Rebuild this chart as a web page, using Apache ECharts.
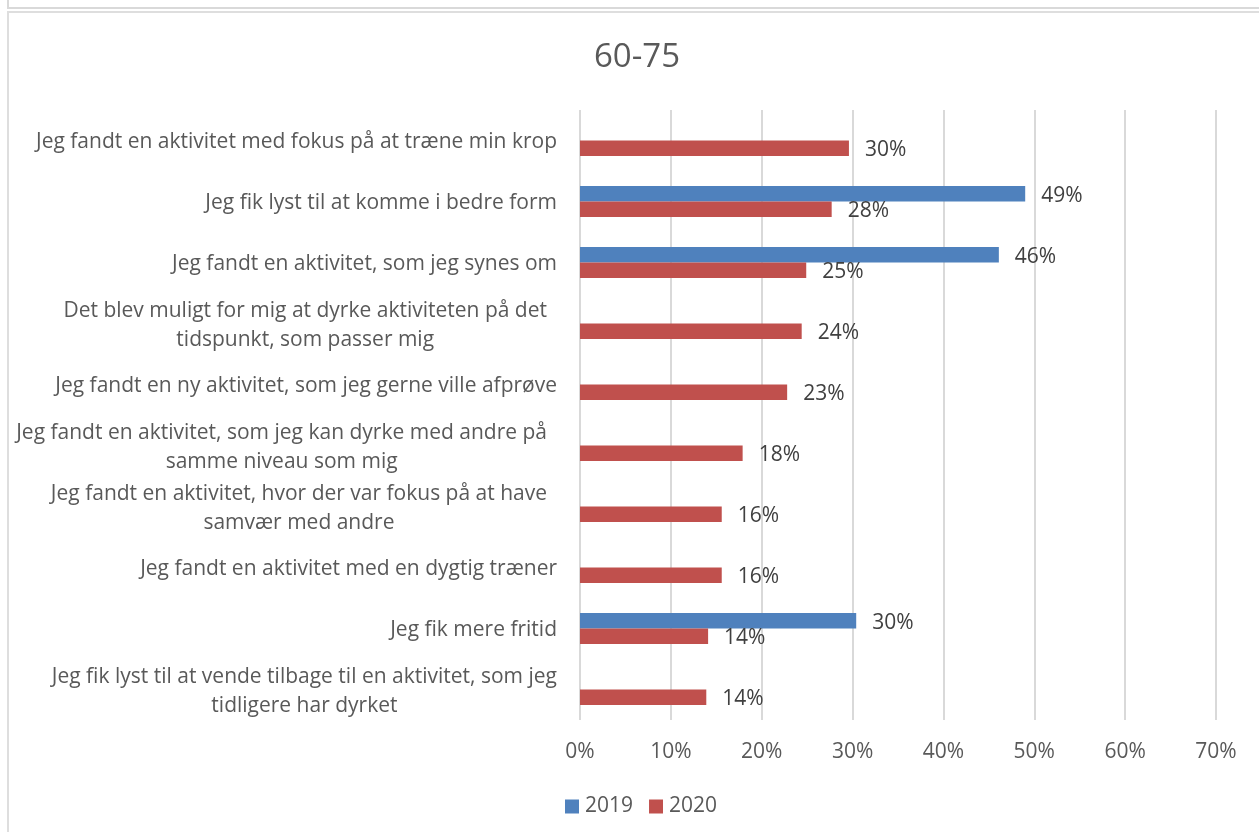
<!DOCTYPE html>
<html>
<head>
<meta charset="utf-8">
<script src="https://cdn.jsdelivr.net/npm/echarts@6/dist/echarts.min.js"></script>
<style>
  html, body { margin: 0; padding: 0; background: #ffffff; overflow: hidden; }
  #upperBox { position: absolute; left: 7px; top: -20px; width: 1300px; height: 25px; border: 2px solid #d9d9d9; }
  #chartBox { position: absolute; left: 7px; top: 11px; width: 1300px; height: 900px; border: 2px solid #dedede; }
  #chart { position: absolute; left: 0; top: 0; width: 1259px; height: 832px; }
</style>
</head>
<body>
<div id="upperBox"></div>
<div id="chartBox"></div>
<div id="chart"></div>
<script>
const titleText = '60-75';
const categories = [
  'Jeg fandt en aktivitet med fokus på at træne min krop',
  'Jeg fik lyst til at komme i bedre form',
  'Jeg fandt en aktivitet, som jeg synes om',
  'Det blev muligt for mig at dyrke aktiviteten på det\ntidspunkt, som passer mig',
  'Jeg fandt en ny aktivitet, som jeg gerne ville afprøve',
  'Jeg fandt en aktivitet, som jeg kan dyrke med andre på\nsamme niveau som mig',
  'Jeg fandt en aktivitet, hvor der var fokus på at have\nsamvær med andre',
  'Jeg fandt en aktivitet med en dygtig træner',
  'Jeg fik mere fritid',
  'Jeg fik lyst til at vende tilbage til en aktivitet, som jeg\ntidligere har dyrket'
];
const seriesNames = ['2019', '2020'];
const values2019 = [null, 49.0, 46.1, null, null, null, null, null, 30.4, null];
const values2020 = [29.6, 27.7, 24.9, 24.4, 22.8, 17.9, 15.6, 15.6, 14.1, 13.9];
const axisMin = 0, axisMax = 70, axisStep = 10;

const FONT = '"Open Sans", "Segoe UI", sans-serif';
const FS = 21;
const chart = echarts.init(document.getElementById('chart'), null, { renderer: 'canvas' });

// wrapped labels: lines centred within a wrap box (Excel style); some boxes are wider than their first line
const widerWrapBox = { 3: true, 5: true, 6: true };
function labelFormatter(v, idx) {
  const lines = v.split('\n');
  if (lines.length === 1) return '{s|' + v + '}';
  const st = widerWrapBox[idx] ? 'w' : 'c';
  return lines.map(l => '{' + st + '|' + l + '}').join('\n');
}

const barLabel = {
  show: true,
  position: 'right',
  distance: 16,
  color: '#404040',
  fontFamily: FONT,
  fontSize: FS,
  offset: [0, 2],
  formatter: p => (p.value == null ? '' : Math.round(p.value) + '%')
};

const baseText = { fontFamily: FONT, fontSize: FS, color: '#595959', lineHeight: 29 };

chart.setOption({
  backgroundColor: 'transparent',
  animation: false,
  title: {
    text: titleText,
    left: 589,
    top: 36,
    textStyle: { fontFamily: FONT, fontSize: 33, fontWeight: 'normal', color: '#595959' }
  },
  legend: {
    data: seriesNames,
    left: 565,
    top: 796,
    padding: 0,
    itemWidth: 14,
    itemHeight: 14,
    itemGap: 16,
    icon: 'rect',
    textStyle: { fontFamily: FONT, fontSize: FS, color: '#595959', padding: [0, 0, 0, 1] }
  },
  grid: { left: 580, right: 43, top: 110, bottom: 112, containLabel: false },
  xAxis: {
    type: 'value',
    min: axisMin,
    max: axisMax,
    interval: axisStep,
    axisLine: { show: false },
    axisTick: { show: false },
    splitLine: { show: true, lineStyle: { color: '#d9d9d9', width: 2 } },
    axisLabel: {
      formatter: '{value}%',
      margin: 22,
      fontFamily: FONT,
      fontSize: FS,
      color: '#595959'
    }
  },
  yAxis: {
    type: 'category',
    data: categories,
    inverse: true,
    axisLine: { show: false },
    axisTick: { show: false },
    splitLine: { show: false },
    axisLabel: {
      margin: 23,
      fontFamily: FONT,
      fontSize: FS,
      color: '#595959',
      lineHeight: 29,
      padding: [4, 0, 0, 0],
      formatter: labelFormatter,
      rich: {
        s: Object.assign({}, baseText),
        c: Object.assign({ align: 'center' }, baseText),
        w: Object.assign({ align: 'center', padding: [0, 10, 0, 0] }, baseText)
      }
    }
  },
  series: [
    {
      name: seriesNames[0],
      type: 'bar',
      data: values2019,
      barWidth: 15.5,
      barGap: '0%',
      itemStyle: { color: '#4f81bd' },
      label: barLabel
    },
    {
      name: seriesNames[1],
      type: 'bar',
      data: values2020,
      barWidth: 15.5,
      barGap: '0%',
      itemStyle: { color: '#c0504d' },
      label: barLabel
    }
  ]
});
</script>
</body>
</html>
